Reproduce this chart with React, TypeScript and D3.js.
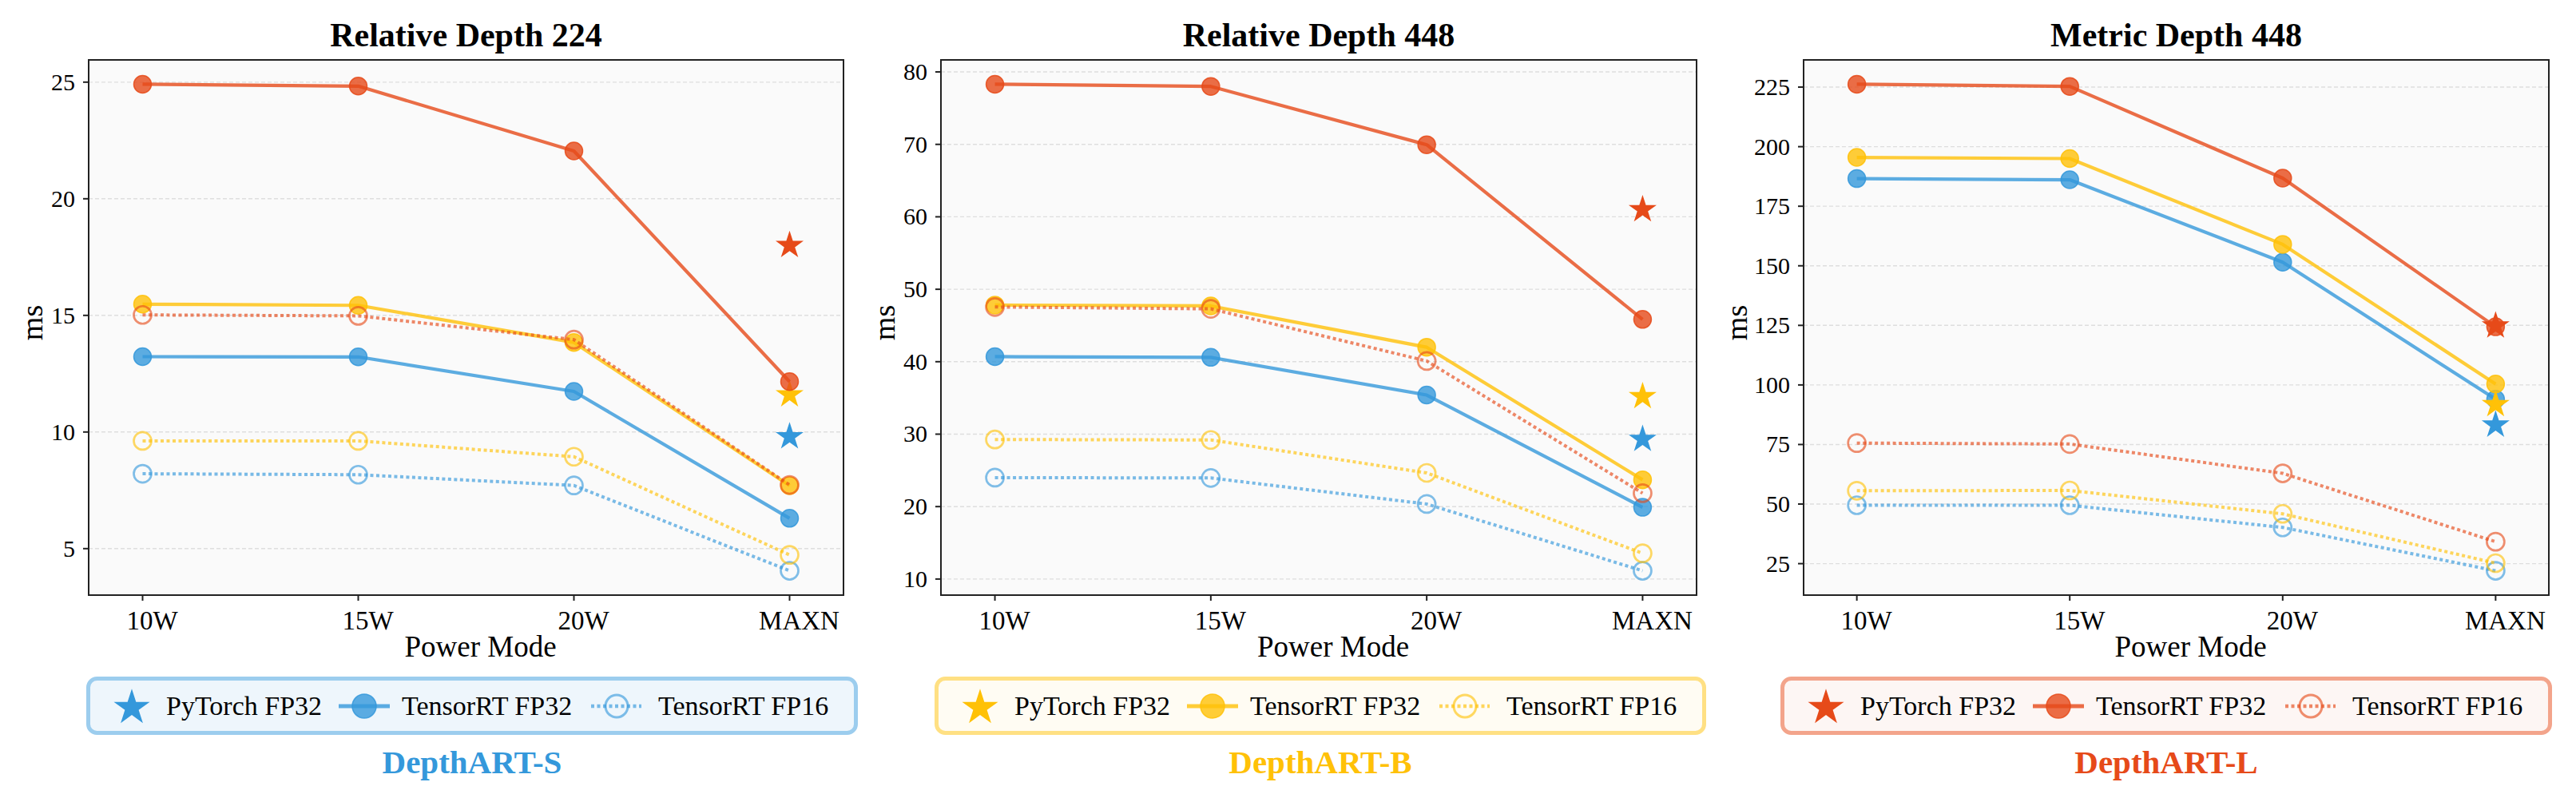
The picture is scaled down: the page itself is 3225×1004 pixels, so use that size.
import React from 'react';
import * as d3 from 'd3';

const W = 3225;
const H = 1004;
const FONT = '"Liberation Serif", "Times New Roman", Times, serif';

// ---------- categories, labels, colours ----------
const powerModes = ['10W', '15W', '20W', 'MAXN'];
const panelTitles = ['Relative Depth 224', 'Relative Depth 448', 'Metric Depth 448'];
const modelNames = ['DepthART-S', 'DepthART-B', 'DepthART-L'];
const modelColors = ['#3498db', '#ffc107', '#e64a19'];
const legendBorders = ['#9ccdee', '#ffe083', '#f3a48b'];
const legendFills = ['#eef6fc', '#fffcf3', '#fdf6f4'];
const seriesLabels = ['PyTorch FP32', 'TensorRT FP32', 'TensorRT FP16'];

// ---------- Relative Depth 224 (ms) ----------
const rel224PyTorchMaxn = [9.8, 11.6, 18.0]; // S, B, L at MAXN
const rel224Fp32S = [13.23, 13.22, 11.74, 6.3];
const rel224Fp32B = [15.48, 15.43, 13.84, 7.7];
const rel224Fp32L = [24.91, 24.83, 22.05, 12.16];
const rel224Fp16S = [8.21, 8.17, 7.71, 4.05];
const rel224Fp16B = [9.62, 9.62, 8.94, 4.73];
const rel224Fp16L = [15.02, 14.98, 13.96, 7.73];
const rel224Ticks = [5, 10, 15, 20, 25];

// ---------- Relative Depth 448 (ms) ----------
const rel448PyTorchMaxn = [29.3, 35.2, 61.0];
const rel448Fp32S = [40.7, 40.6, 35.4, 19.9];
const rel448Fp32B = [47.82, 47.7, 42.0, 23.7];
const rel448Fp32L = [78.3, 78.0, 69.95, 45.84];
const rel448Fp16S = [24.0, 23.95, 20.36, 11.14];
const rel448Fp16B = [29.26, 29.2, 24.65, 13.55];
const rel448Fp16L = [47.55, 47.3, 40.1, 21.85];
const rel448Ticks = [10, 20, 30, 40, 50, 60, 70, 80];

// ---------- Metric Depth 448 (ms) ----------
const met448PyTorchMaxn = [83.2, 91.8, 124.8];
const met448Fp32S = [186.6, 186.1, 151.5, 94.0];
const met448Fp32B = [195.5, 195.0, 159.0, 100.4];
const met448Fp32L = [226.2, 225.3, 186.8, 124.4];
const met448Fp16S = [49.5, 49.5, 40.2, 22.0];
const met448Fp16B = [55.6, 55.7, 45.9, 25.2];
const met448Fp16L = [75.6, 75.2, 62.9, 34.2];
const met448Ticks = [25, 50, 75, 100, 125, 150, 175, 200, 225];

const panels = [
  { title: panelTitles[0], ticks: rel224Ticks, pytorch: rel224PyTorchMaxn, fp32: [rel224Fp32S, rel224Fp32B, rel224Fp32L], fp16: [rel224Fp16S, rel224Fp16B, rel224Fp16L] },
  { title: panelTitles[1], ticks: rel448Ticks, pytorch: rel448PyTorchMaxn, fp32: [rel448Fp32S, rel448Fp32B, rel448Fp32L], fp16: [rel448Fp16S, rel448Fp16B, rel448Fp16L] },
  { title: panelTitles[2], ticks: met448Ticks, pytorch: met448PyTorchMaxn, fp32: [met448Fp32S, met448Fp32B, met448Fp32L], fp16: [met448Fp16S, met448Fp16B, met448Fp16L] },
];

// ---------- layout ----------
const plotTop = 75;
const plotBottom = 745;
const plotX = [[111, 1056], [1178, 2124], [2258, 3191]];
const yLabelGap = [58, 58, 71];
const legendLeft = [108, 1170, 2229];
const legendWidth = 966;

const starPlot = d3.symbol().type(d3.symbolStar).size(380)();
const starLegend = d3.symbol().type(d3.symbolStar).size(630)();

function Panel({ p, i }: { p: typeof panels[number]; i: number }) {
  const [x0, x1] = plotX[i];
  const x = d3.scaleLinear().domain([-0.25, powerModes.length - 0.75]).range([x0, x1]);
  const all = [...p.pytorch, ...p.fp32.flat(), ...p.fp16.flat()];
  const [lo, hi] = d3.extent(all) as [number, number];
  const pad = (hi - lo) * 0.05;
  const y = d3.scaleLinear().domain([lo - pad, hi + pad]).range([plotBottom, plotTop]);
  const line = d3.line<number>().x((_, k) => x(k)).y((d) => y(d));
  const cx = (x0 + x1) / 2;
  const last = powerModes.length - 1;

  return (
    <g>
      <rect x={x0} y={plotTop} width={x1 - x0} height={plotBottom - plotTop} fill="#fafafa" />
      {p.ticks.map((t) => (
        <line key={'g' + t} x1={x0} x2={x1} y1={y(t)} y2={y(t)} stroke="#dedede" strokeWidth={1.4} strokeDasharray="5 3" />
      ))}

      {modelColors.map((c, m) => (
        <g key={m}>
          <path d={line(p.fp32[m]) || ''} fill="none" stroke={c} strokeOpacity={0.8} strokeWidth={4.2} strokeLinejoin="round" />
          {p.fp32[m].map((v, k) => (
            <circle key={k} cx={x(k)} cy={y(v)} r={11} fill={c} fillOpacity={0.8} stroke={c} strokeOpacity={0.85} strokeWidth={1.5} />
          ))}
          <path d={line(p.fp16[m]) || ''} fill="none" stroke={c} strokeOpacity={0.65} strokeWidth={4} strokeDasharray="4 3.5" />
          {p.fp16[m].map((v, k) => (
            <circle key={k} cx={x(k)} cy={y(v)} r={11} fill="none" stroke={c} strokeOpacity={0.62} strokeWidth={2.7} />
          ))}
          <path d={starPlot || ''} transform={`translate(${x(last)},${y(p.pytorch[m])})`} fill={c} />
        </g>
      ))}

      <rect x={x0} y={plotTop} width={x1 - x0} height={plotBottom - plotTop} fill="none" stroke="#222" strokeWidth={2} />

      {p.ticks.map((t) => (
        <g key={'t' + t}>
          <line x1={x0 - 7} x2={x0} y1={y(t)} y2={y(t)} stroke="#222" strokeWidth={2} />
          <text x={x0 - 17} y={y(t) + 10} textAnchor="end" fontSize={30} fontFamily={FONT} fill="#000">{t}</text>
        </g>
      ))}
      {powerModes.map((pm, k) => (
        <g key={pm}>
          <line x1={x(k)} x2={x(k)} y1={plotBottom} y2={plotBottom + 7} stroke="#222" strokeWidth={2} />
          <text x={x(k) + 12} y={788} textAnchor="middle" fontSize={33} fontFamily={FONT} fill="#000">{pm}</text>
        </g>
      ))}

      <text x={cx} y={58} textAnchor="middle" fontSize={42} fontWeight="bold" fontFamily={FONT} fill="#000">{p.title}</text>
      <text transform={`translate(${x0 - yLabelGap[i]},404) rotate(-90)`} textAnchor="middle" fontSize={38} fontFamily={FONT} fill="#000">ms</text>
      <text x={cx + 18} y={822} textAnchor="middle" fontSize={37} fontFamily={FONT} fill="#000">Power Mode</text>

      <Legend i={i} />
    </g>
  );
}

function Legend({ i }: { i: number }) {
  const L = legendLeft[i];
  const c = modelColors[i];
  const cy = 884;
  const base = 895;
  return (
    <g>
      <rect x={L + 2.5} y={849.5} width={legendWidth - 5} height={68} rx={11} fill={legendFills[i]} stroke={legendBorders[i]} strokeWidth={5} />
      <path d={starLegend || ''} transform={`translate(${L + 57},${cy + 2})`} fill={c} />
      <text x={L + 100} y={base} fontSize={34} fontFamily={FONT} fill="#000">{seriesLabels[0]}</text>

      <line x1={L + 316} x2={L + 380} y1={cy} y2={cy} stroke={c} strokeOpacity={0.8} strokeWidth={5} />
      <circle cx={L + 348} cy={cy} r={15} fill={c} fillOpacity={0.8} stroke={c} strokeOpacity={0.85} strokeWidth={1.5} />
      <text x={L + 395} y={base} fontSize={34} fontFamily={FONT} fill="#000">{seriesLabels[1]}</text>

      <line x1={L + 632} x2={L + 695} y1={cy} y2={cy} stroke={c} strokeOpacity={0.65} strokeWidth={4.5} strokeDasharray="4 3.5" />
      <circle cx={L + 664} cy={cy} r={14} fill="none" stroke={c} strokeOpacity={0.62} strokeWidth={3} />
      <text x={L + 716} y={base} fontSize={34} fontFamily={FONT} fill="#000">{seriesLabels[2]}</text>

      <text x={L + legendWidth / 2} y={968} textAnchor="middle" fontSize={41} fontWeight="bold" fontFamily={FONT} fill={c}>{modelNames[i]}</text>
    </g>
  );
}

export default function App() {
  return (
    <svg width={W} height={H} viewBox={`0 0 ${W} ${H}`} style={{ position: 'absolute', left: 0, top: 0, display: 'block', background: '#fff' }}>
      <rect width={W} height={H} fill="#fff" />
      {panels.map((p, i) => (
        <Panel key={i} p={p} i={i} />
      ))}
    </svg>
  );
}
